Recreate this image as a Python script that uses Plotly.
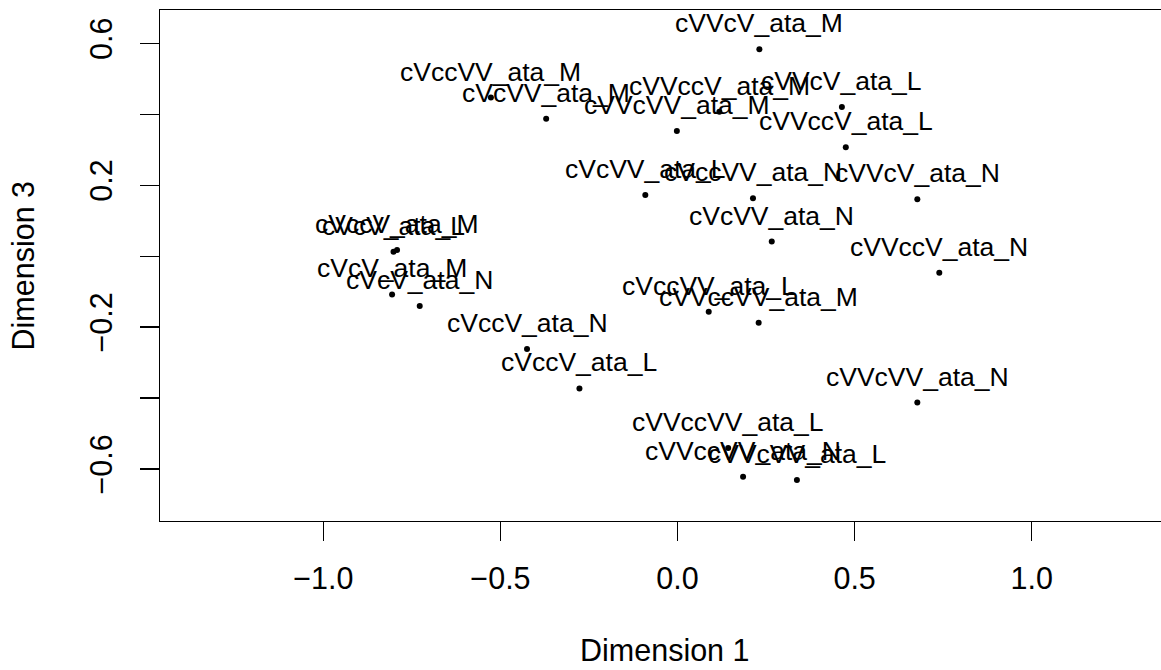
import plotly.graph_objects as go

labels = [
    "cVVcV_ata_M", "cVVcV_ata_L", "cVVccV_ata_L", "cVVccV_ata_M",
    "cVVcVV_ata_M", "cVcVV_ata_M", "cVccVV_ata_M", "cVcVV_ata_L",
    "cVccVV_ata_N", "cVVcV_ata_N", "cVVccV_ata_N", "cVcVV_ata_N",
    "cVccV_ata_M", "cVcV_ata_L", "cVcV_ata_M", "cVcV_ata_N",
    "cVccV_ata_N", "cVccV_ata_L", "cVccVV_ata_L", "cVVccVV_ata_M",
    "cVVcVV_ata_N", "cVVccVV_ata_L", "cVVccVV_ata_N", "cVVcVV_ata_L",
]
dim1 = [
    0.231, 0.464, 0.475, 0.118,
    -0.002, -0.371, -0.527, -0.091,
    0.213, 0.677, 0.739, 0.266,
    -0.792, -0.802, -0.806, -0.728,
    -0.425, -0.277, 0.088, 0.229,
    0.677, 0.143, 0.185, 0.337,
]
dim3 = [
    0.583, 0.420, 0.307, 0.407,
    0.353, 0.387, 0.447, 0.172,
    0.163, 0.160, -0.047, 0.041,
    0.017, 0.012, -0.108, -0.141,
    -0.262, -0.373, -0.157, -0.188,
    -0.413, -0.541, -0.622, -0.631,
]

x_ticks = [-1.0, -0.5, 0.0, 0.5, 1.0]
x_ticktext = ["\u22121.0", "\u22120.5", "0.0", "0.5", "1.0"]
y_ticks = [-0.6, -0.4, -0.2, 0.0, 0.2, 0.4, 0.6]
y_ticktext = ["\u22120.6", "", "\u22120.2", "", "0.2", "", "0.6"]

FONT = "Liberation Sans"

fig = go.Figure()
fig.add_trace(go.Scatter(
    x=dim1, y=dim3, mode="markers",
    marker=dict(size=6, color="black"),
    hoverinfo="skip", showlegend=False,
))

for lab, xv, yv in zip(labels, dim1, dim3):
    fig.add_annotation(
        x=xv, y=yv, text=lab, showarrow=False,
        xanchor="center", yanchor="middle", yshift=26,
        font=dict(family=FONT, size=26.5, color="black"),
    )

# axis titles
fig.add_annotation(
    xref="paper", yref="paper", x=0.5045, y=-0.2524,
    text="Dimension 1", showarrow=False, xanchor="center", yanchor="middle",
    font=dict(family=FONT, size=30.5, color="black"),
)
fig.add_annotation(
    xref="paper", yref="paper", x=-0.1369, y=0.5,
    text="Dimension 3", showarrow=False, xanchor="center", yanchor="middle",
    textangle=-90,
    font=dict(family=FONT, size=30.5, color="black"),
)

fig.update_layout(
    width=1161, height=670,
    margin=dict(l=160, r=0, t=10, b=149),
    paper_bgcolor="white", plot_bgcolor="white",
    font=dict(family=FONT, color="black"),
    hovermode=False,
    xaxis=dict(
        range=[-1.4613, 1.365], showgrid=False, zeroline=False,
        showline=True, mirror=True, linecolor="black", linewidth=1.3,
        ticks="outside", ticklen=19, tickwidth=1.2, tickcolor="black",
        tickvals=x_ticks, ticktext=x_ticktext,
        tickfont=dict(family=FONT, size=30.5, color="black"),
        ticklabelstandoff=11,
    ),
    yaxis=dict(
        range=[-0.7468, 0.6938], showgrid=False, zeroline=False,
        showline=True, mirror=False, linecolor="black", linewidth=1.3,
        ticks="outside", ticklen=19, tickwidth=1.2, tickcolor="black",
        tickvals=y_ticks, ticktext=y_ticktext, tickangle=-90,
        tickfont=dict(family=FONT, size=30.5, color="black"),
        ticklabelstandoff=16,
    ),
)

fig.write_html(
    "out.html",
    config={"displayModeBar": False, "staticPlot": True},
    post_script="document.body.style.margin='0px';document.body.style.overflow='hidden';",
)
